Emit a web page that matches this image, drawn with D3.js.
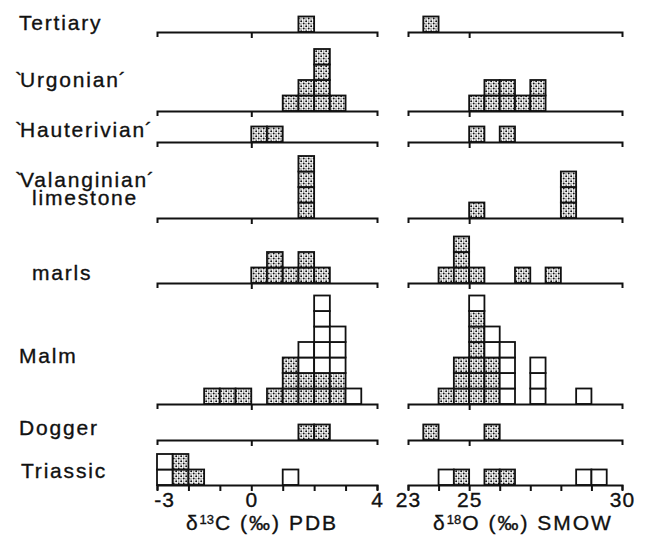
<!DOCTYPE html>
<html>
<head>
<meta charset="utf-8">
<script src="https://cdn.jsdelivr.net/npm/d3@7/dist/d3.min.js"></script>
<style>
    body { margin: 0; background: #fff; }
    svg text { font-family: "Liberation Sans", Arial, sans-serif; fill: #111; stroke: #111; stroke-width: 0.35px; }
</style>
</head>
<body>
<div id="chart"></div>
<script>
// Row names (top to bottom), a label may run over two lines
const rowLabels = [
    ["Tertiary"],
    ["`Urgonian´"],
    ["`Hauterivian´"],
    ["`Valanginian´", "limestone"],
    ["marls"],
    ["Malm"],
    ["Dogger"],
    ["Triassic"]
];

// Each entry: [bin start, stippled boxes, open boxes], bins are 0.5 per mil wide
const carbonBins = [
    [[1.5, 1, 0]],
    [[1, 1, 0], [1.5, 2, 0], [2, 4, 0], [2.5, 1, 0]],
    [[0, 1, 0], [0.5, 1, 0]],
    [[1.5, 4, 0]],
    [[0, 1, 0], [0.5, 2, 0], [1, 1, 0], [1.5, 2, 0], [2, 1, 0]],
    [[-1.5, 1, 0], [-1, 1, 0], [-0.5, 1, 0], [0.5, 1, 0], [1, 3, 0], [1.5, 2, 2], [2, 2, 5], [2.5, 2, 3], [3, 0, 1]],
    [[1.5, 1, 0], [2, 1, 0]],
    [[-3, 0, 2], [-2.5, 2, 0], [-2, 1, 0], [1, 0, 1]]
];

const oxygenBins = [
    [[23.5, 1, 0]],
    [[25, 1, 0], [25.5, 2, 0], [26, 2, 0], [26.5, 1, 0], [27, 2, 0]],
    [[25, 1, 0], [26, 1, 0]],
    [[25, 1, 0], [28, 3, 0]],
    [[24, 1, 0], [24.5, 3, 0], [25, 1, 0], [26.5, 1, 0], [27.5, 1, 0]],
    [[24, 1, 0], [24.5, 3, 0], [25, 6, 1], [25.5, 3, 2], [26, 0, 4], [27, 0, 3], [28.5, 0, 1]],
    [[23.5, 1, 0], [25.5, 1, 0]],
    [[24, 0, 1], [24.5, 1, 0], [25.5, 1, 0], [26, 1, 0], [28.5, 0, 1], [29, 0, 1]]
];

const carbonDomain = [-3, 4];
const oxygenDomain = [23, 30];
const carbonTickLabels = [-3, 0, 4];
const oxygenTickLabels = [23, 25, 30];
const binWidth = 0.5;

// layout
const width = 653, height = 535;
const baselines = [32, 111, 142, 218, 283, 404, 440, 485];
const labelLines = [[[19, 30]], [[15, 87]], [[15, 137]], [[15, 187], [32, 205]], [[32, 280]], [[19, 363]], [[19, 435]], [[21, 478]]];
const boxH = 15.5;
const fontSize = 21;

const svg = d3.select('#chart').append('svg')
    .attr('width', width)
    .attr('height', height);

// stipple fill for the dotted boxes
const pattern = svg.append('defs').append('pattern')
    .attr('id', 'stipple')
    .attr('patternUnits', 'userSpaceOnUse')
    .attr('width', 5)
    .attr('height', 5);
pattern.append('rect').attr('width', 5).attr('height', 5).attr('fill', '#fff');
[[1.2, 1.3, 1.0], [3.7, 3.6, 1.0], [3.8, 1.0, 0.6], [1.0, 3.9, 0.6]].forEach(([cx, cy, r]) => {
    pattern.append('circle').attr('cx', cx).attr('cy', cy).attr('r', r).attr('fill', '#111');
});

const xC = d3.scaleLinear().domain(carbonDomain).range([157, 377]);
const xO = d3.scaleLinear().domain(oxygenDomain).range([408, 622]);

// row labels, the quote marks are kept tight to the word
rowLabels.forEach((lines, i) => {
    lines.forEach((t, j) => {
        const txt = svg.append('text')
            .attr('x', labelLines[i][j][0])
            .attr('y', labelLines[i][j][1])
            .style('font-size', fontSize + 'px')
            .style('letter-spacing', '1.8px');
        const parts = t.match(/^(`?)(.*?)(´?)$/);
        if (parts[1]) txt.append('tspan').style('letter-spacing', '-2px').text(parts[1]);
        txt.append('tspan').text(parts[2]);
        if (parts[3]) txt.append('tspan').attr('dx', -1).text(parts[3]);
    });
});

function drawPanel(x, bins, domain, tickLabels) {
    const panel = svg.append('g');
    const isLast = i => i === baselines.length - 1;

    bins.forEach((rowBins, i) => {
        const y0 = baselines[i];
        const boxes = [];
        rowBins.forEach(([bin, dotted, open]) => {
            for (let k = 0; k < dotted + open; k++) {
                boxes.push({ bin: bin, level: k, dotted: k < dotted });
            }
        });

        panel.append('g')
            .selectAll('rect')
            .data(boxes)
            .enter()
            .append('rect')
            .attr('x', d => x(d.bin))
            .attr('y', d => y0 - (d.level + 1) * boxH)
            .attr('width', d => x(d.bin + binWidth) - x(d.bin))
            .attr('height', boxH)
            .attr('fill', d => d.dotted ? 'url(#stipple)' : '#fff')
            .attr('stroke', '#111')
            .attr('stroke-width', 1.8);

        const ticks = isLast(i) ? d3.range(domain[0], domain[1] + 1) : [tickLabels[1]];
        const axis = d3.axisBottom(x)
            .tickValues(ticks)
            .tickSize(6)
            .tickSizeOuter(5)
            .tickPadding(1)
            .tickFormat(d => isLast(i) && tickLabels.includes(d) ? String(d) : '');

        const ax = panel.append('g')
            .attr('transform', `translate(0,${y0})`)
            .call(axis);
        ax.attr('font-family', null).attr('font-size', null);
        ax.selectAll('path, line').attr('stroke', '#111').attr('stroke-width', 2);
        ax.selectAll('text')
            .style('font-size', fontSize + 'px')
            .style('letter-spacing', '1px')
            .attr('dx', d => d === domain[0] && domain[0] < 0 ? 7 : 0);
    });
}

drawPanel(xC, carbonBins, carbonDomain, carbonTickLabels);
drawPanel(xO, oxygenBins, oxygenDomain, oxygenTickLabels);

// axis titles
function axisTitle(cx, sup, rest) {
    const t = svg.append('text')
        .attr('x', cx)
        .attr('y', 530)
        .attr('text-anchor', 'middle')
        .style('font-size', fontSize + 'px')
        .style('letter-spacing', '2px');
    t.append('tspan').text('δ');
    t.append('tspan').attr('dy', -6).style('font-size', '13px').style('letter-spacing', '0px').text(sup);
    t.append('tspan').attr('dy', 6).attr('dx', 1).text(rest);
}
axisTitle(262, '13', 'C (‰) PDB');
axisTitle(523, '18', 'O (‰) SMOW');
</script>
</body>
</html>
